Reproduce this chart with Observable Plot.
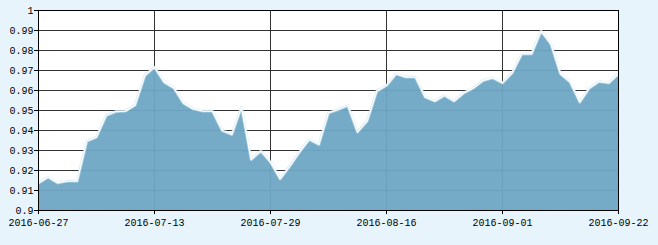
<!DOCTYPE html>
<html>
<head>
<meta charset="utf-8">
<script src="https://cdn.jsdelivr.net/npm/d3@7"></script>
<script src="https://cdn.jsdelivr.net/npm/@observablehq/plot@0.6"></script>
<style>
  html, body { margin: 0; padding: 0; background: #e8f4fc; }
  #chart { width: 658px; height: 245px; }
</style>
</head>
<body>
<div id="chart"></div>
<script>
const dates = [
  "2016-06-27","2016-06-28","2016-06-29","2016-06-30","2016-07-01",
  "2016-07-04","2016-07-05","2016-07-06","2016-07-07","2016-07-08",
  "2016-07-11","2016-07-12","2016-07-13","2016-07-14","2016-07-15",
  "2016-07-18","2016-07-19","2016-07-20","2016-07-21","2016-07-22",
  "2016-07-25","2016-07-26","2016-07-27","2016-07-28","2016-07-29",
  "2016-08-01","2016-08-02","2016-08-03","2016-08-04","2016-08-05",
  "2016-08-08","2016-08-09","2016-08-10","2016-08-11","2016-08-12",
  "2016-08-15","2016-08-16","2016-08-17","2016-08-18","2016-08-19",
  "2016-08-22","2016-08-23","2016-08-24","2016-08-25","2016-08-26",
  "2016-08-29","2016-08-30","2016-08-31","2016-09-01","2016-09-02",
  "2016-09-05","2016-09-06","2016-09-07","2016-09-08","2016-09-09",
  "2016-09-12","2016-09-13","2016-09-14","2016-09-19","2016-09-20",
  "2016-09-22"
];
const values = [
  0.9137, 0.9167, 0.9138, 0.9147, 0.9147,
  0.9347, 0.9367, 0.9475, 0.9495, 0.9497,
  0.9527, 0.9675, 0.9717, 0.9642, 0.9613,
  0.9537, 0.9508, 0.9497, 0.9497, 0.9400,
  0.9380, 0.9517, 0.9255, 0.9297, 0.9242,
  0.9158, 0.9222, 0.9292, 0.9355, 0.9330,
  0.9488, 0.9505, 0.9525, 0.9392, 0.9447,
  0.9597, 0.9625, 0.9683, 0.9667, 0.9667,
  0.9567, 0.9547, 0.9575, 0.9547, 0.9588,
  0.9613, 0.9650, 0.9663, 0.9638, 0.9688,
  0.9783, 0.9783, 0.9897, 0.9833, 0.9683,
  0.9642, 0.9542, 0.9613, 0.9645, 0.9638,
  0.9683
];
const xTickLabels = ["2016-06-27","2016-07-13","2016-07-29","2016-08-16","2016-09-01","2016-09-22"];
const yTicks = [0.9, 0.91, 0.92, 0.93, 0.94, 0.95, 0.96, 0.97, 0.98, 0.99, 1];
const yMin = 0.9, yMax = 1;

const data = dates.map((d, i) => ({i, date: d, v: values[i]}));
const xTicks = xTickLabels.map(l => dates.indexOf(l));

const chart = Plot.plot({
  width: 658,
  height: 245,
  marginLeft: 38,
  marginRight: 40,
  marginTop: 10,
  marginBottom: 35,
  style: {
    background: "#e8f4fc",
    fontFamily: "'Liberation Mono', 'DejaVu Sans Mono', monospace",
    fontSize: "10px",
    color: "#000"
  },
  x: {type: "linear", domain: [0, dates.length - 1], label: null},
  y: {domain: [yMin, yMax], label: null},
  marks: [
    Plot.frame({fill: "white", stroke: null}),
    Plot.gridY(yTicks, {stroke: "#333", strokeOpacity: 1}),
    Plot.gridX(xTicks, {stroke: "#333", strokeOpacity: 1}),
    Plot.areaY(data, {x: "i", y1: yMin, y2: "v", fill: "#6ea6c4", fillOpacity: 0.95}),
    Plot.lineY(data, {x: "i", y: "v", stroke: "#d6ebf6", strokeWidth: 3, strokeOpacity: 0.6}),
    Plot.lineY(data, {x: "i", y: "v", stroke: "#ffffff", strokeWidth: 1.3}),
    Plot.frame({stroke: "#000", strokeWidth: 1}),
    Plot.axisY(yTicks, {tickSize: 4, tickPadding: 1, tickFormat: d => String(+d.toFixed(2)), label: null}),
    Plot.axisX(xTicks, {tickSize: 4, tickPadding: 4, tickFormat: i => dates[i], label: null})
  ]
});
document.getElementById("chart").appendChild(chart);
</script>
</body>
</html>
